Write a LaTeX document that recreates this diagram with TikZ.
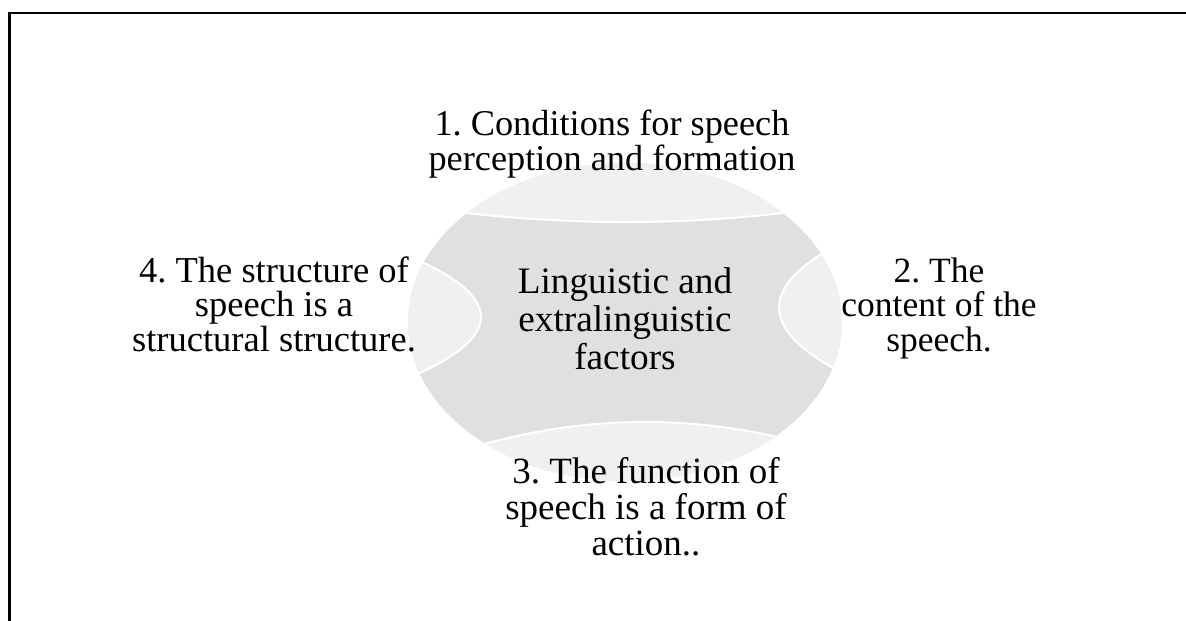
\documentclass[tikz,border=0pt]{standalone}
\usepackage{fontspec}
\setmainfont{Liberation Serif}
\definecolor{maingrey}{RGB}{224,224,224}
\definecolor{capgrey}{RGB}{240,240,240}
\begin{document}
\frenchspacing
\begin{tikzpicture}[x=1pt,y=-1pt,
  lbl/.style={font=\fontsize{37}{35}\selectfont, align=center, inner sep=0pt, text=black},
  sep/.style={draw=white, line width=2pt},
  frame/.style={draw=black, line width=2.6pt}]
\useasboundingbox (0,0) rectangle (1186,621);
% frame
\coordinate (fbl) at (9.2,621);
\coordinate (ftl) at (9.2,13);
\coordinate (ftr) at (1186,13);
\draw[frame] (fbl) -- (ftl) -- (ftr);
% circle diagram
\begin{scope}
  \clip (625,322) ellipse [x radius=217pt, y radius=159pt];
  \fill[maingrey] (625,322) ellipse [x radius=217pt, y radius=159pt];
  % top cap
  \fill[capgrey] (400,203.8) .. controls (550,228.1) and (700,228.1) .. (850,203.8) -- (850,140) -- (400,140) -- cycle;
  % bottom cap
  \fill[capgrey] (420,465.2) .. controls (570,407.6) and (720,407.6) .. (870,465.2) -- (870,500) -- (420,500) -- cycle;
  % left cap
  \fill[capgrey] (379.6,245) .. controls (514.8,293) and (514.8,341) .. (379.6,389) -- cycle;
  % right cap
  \fill[capgrey] (862.3,232.5) .. controls (751.2,282.5) and (751.2,332.5) .. (862.3,382.5) -- cycle;
  \draw[sep] (400,203.8) .. controls (550,228.1) and (700,228.1) .. (850,203.8);
  \draw[sep] (420,465.2) .. controls (570,407.6) and (720,407.6) .. (870,465.2);
  \draw[sep] (379.6,245) .. controls (514.8,293) and (514.8,341) .. (379.6,389);
  \draw[sep] (862.3,232.5) .. controls (751.2,282.5) and (751.2,332.5) .. (862.3,382.5);
\end{scope}
% labels
\node[lbl, font=\fontsize{36.3}{35}\selectfont] (top) at (612,144.1) {1. Conditions for speech\\perception and formation};
\node[lbl, font=\fontsize{36.5}{34.5}\selectfont] (left) at (274,304.4) {4. The structure of\\speech is a\\structural structure.};
\node[lbl, font=\fontsize{35.5}{34.5}\selectfont] (right) at (939,308.1) {2. The\\content of the\\speech.};
\node[lbl, font=\fontsize{37.3}{38}\selectfont] (centre) at (625,318.9) {Linguistic and\\extralinguistic\\factors};
\node[lbl, font=\fontsize{37}{36}\selectfont] (bottom) at (646,506.7) {3. The function of\\speech is a form of\\action..};
\end{tikzpicture}
\end{document}
